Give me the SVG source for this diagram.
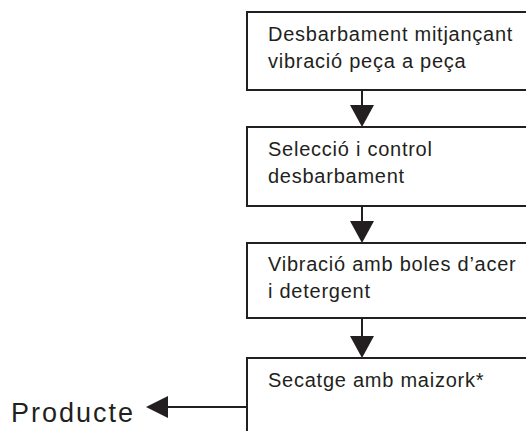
<svg xmlns="http://www.w3.org/2000/svg" width="526" height="431" viewBox="0 0 526 431">
<style>
.box{fill:#fff;stroke:#231f20;stroke-width:2}
.t{font-family:"Liberation Sans",Arial,sans-serif;font-size:20px;fill:#231f20;letter-spacing:0.75px}
.big{font-family:"Liberation Sans",Arial,sans-serif;font-size:27px;fill:#231f20;letter-spacing:2px}
.ln{stroke:#231f20;stroke-width:2;fill:none}
.ah{fill:#231f20}
</style>
<rect width="526" height="431" fill="#fff"/>
<g id="connectors">
<line class="ln" x1="362" y1="90" x2="362" y2="106"/>
<polygon class="ah" points="350,105 374,105 362,127"/>
<line class="ln" x1="362" y1="206" x2="362" y2="222"/>
<polygon class="ah" points="350,221 374,221 362,243"/>
<line class="ln" x1="362" y1="318" x2="362" y2="337"/>
<polygon class="ah" points="350,336 374,336 362,358"/>
<line class="ln" x1="247" y1="407" x2="166" y2="407"/>
<polygon class="ah" points="168,396 168,418 146,407"/>
</g>
<g id="n1">
<rect class="box" x="247" y="12" width="290" height="78"/>
<text class="t" x="268" y="41">Desbarbament mitjançant</text>
<text class="t" x="268" y="68">vibració peça a peça</text>
</g>
<g id="n2">
<rect class="box" x="247" y="127" width="290" height="79"/>
<text class="t" x="268" y="156">Selecció i control</text>
<text class="t" x="268" y="183">desbarbament</text>
</g>
<g id="n3">
<rect class="box" x="247" y="243" width="290" height="75"/>
<text class="t" x="268" y="271">Vibració amb boles d’acer</text>
<text class="t" x="268" y="298">i detergent</text>
</g>
<g id="n4">
<rect class="box" x="247" y="358" width="290" height="90"/>
<text class="t" x="268" y="387">Secatge amb maizork*</text>
</g>
<g id="producte">
<text class="big" x="11" y="422">Producte</text>
</g>
</svg>
